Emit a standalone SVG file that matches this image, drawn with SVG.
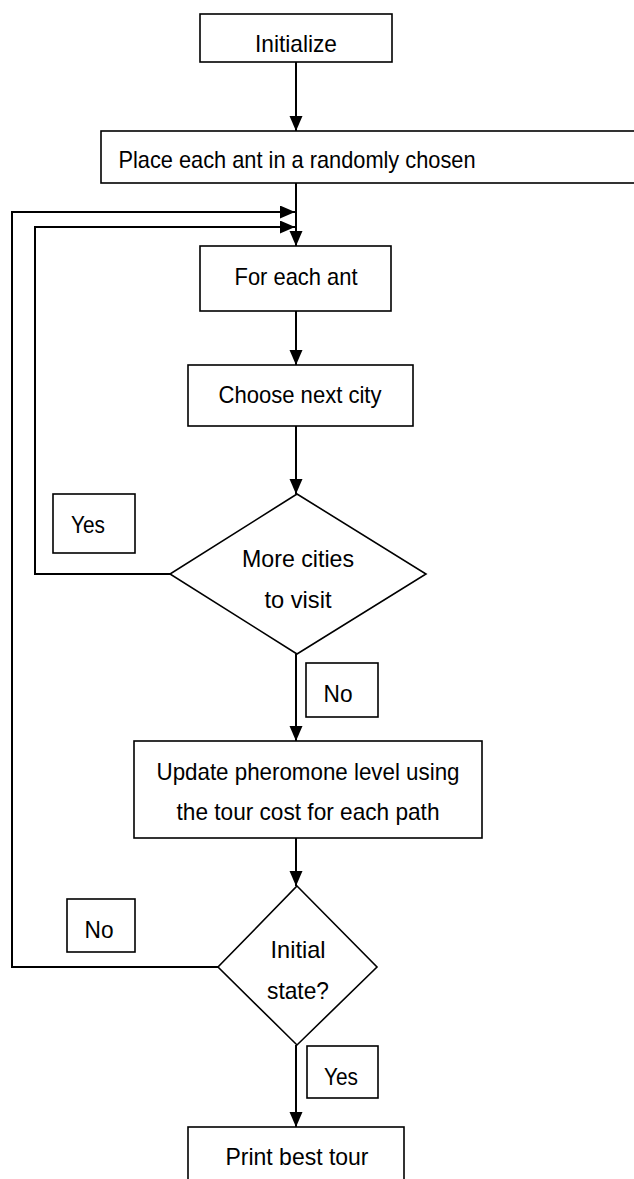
<svg xmlns="http://www.w3.org/2000/svg" width="634" height="1179" viewBox="0 0 634 1179">
<style>
.box{fill:#fff;stroke:#000;stroke-width:1.6}
.conn{fill:none;stroke:#000;stroke-width:2}
text{font-family:"Liberation Sans",Arial,sans-serif;font-size:24px;fill:#000;text-anchor:middle}
</style>
<defs>
<marker id="ah" markerUnits="userSpaceOnUse" markerWidth="16" markerHeight="14" refX="15" refY="6.5" orient="auto">
<path d="M0,0 L15,6.5 L0,13 z" fill="#000"/>
</marker>
</defs>
<rect width="634" height="1179" fill="#fff"/>
<g id="connectors">
<line class="conn" x1="296" y1="62" x2="296" y2="131" marker-end="url(#ah)"/>
<line class="conn" x1="296" y1="183" x2="296" y2="246" marker-end="url(#ah)"/>
<line class="conn" x1="296" y1="311" x2="296" y2="365" marker-end="url(#ah)"/>
<line class="conn" x1="296" y1="426" x2="296" y2="494" marker-end="url(#ah)"/>
<line class="conn" x1="296" y1="654" x2="296" y2="741" marker-end="url(#ah)"/>
<line class="conn" x1="296" y1="838" x2="296" y2="886" marker-end="url(#ah)"/>
<line class="conn" x1="296" y1="1045" x2="296" y2="1127" marker-end="url(#ah)"/>
<polyline class="conn" points="170,574 35,574 35,227 295,227" marker-end="url(#ah)"/>
<polyline class="conn" points="218,967 12,967 12,212 295,212" marker-end="url(#ah)"/>
</g>
<g id="n-initialize">
<rect class="box" x="200" y="14" width="192" height="48"/>
<text x="296" y="52" textLength="82" lengthAdjust="spacingAndGlyphs">Initialize</text>
</g>
<g id="n-place">
<rect class="box" x="101" y="131" width="540" height="52"/>
<text x="297" y="168" textLength="357" lengthAdjust="spacingAndGlyphs">Place each ant in a randomly chosen</text>
</g>
<g id="n-foreach">
<rect class="box" x="200" y="246" width="191" height="65"/>
<text x="296" y="285" textLength="123" lengthAdjust="spacingAndGlyphs">For each ant</text>
</g>
<g id="n-choose">
<rect class="box" x="188" y="365" width="225" height="61"/>
<text x="300" y="403" textLength="163" lengthAdjust="spacingAndGlyphs">Choose next city</text>
</g>
<g id="n-more">
<polygon class="box" points="297,494 426,574 297,654 170,574"/>
<text x="298" y="567" textLength="112" lengthAdjust="spacingAndGlyphs">More cities</text>
<text x="298" y="608" textLength="67" lengthAdjust="spacingAndGlyphs">to visit</text>
</g>
<g id="l-yes1">
<rect class="box" x="53" y="494" width="82" height="59"/>
<text x="88" y="533" textLength="34" lengthAdjust="spacingAndGlyphs">Yes</text>
</g>
<g id="l-no1">
<rect class="box" x="306" y="663" width="72" height="54"/>
<text x="338" y="702" textLength="29" lengthAdjust="spacingAndGlyphs">No</text>
</g>
<g id="n-update">
<rect class="box" x="134" y="741" width="348" height="97"/>
<text x="308" y="780" textLength="303" lengthAdjust="spacingAndGlyphs">Update pheromone level using</text>
<text x="308" y="820" textLength="263" lengthAdjust="spacingAndGlyphs">the tour cost for each path</text>
</g>
<g id="n-initial">
<polygon class="box" points="297,886 377,967 297,1045 218,967"/>
<text x="298" y="958" textLength="55" lengthAdjust="spacingAndGlyphs">Initial</text>
<text x="298" y="999" textLength="62" lengthAdjust="spacingAndGlyphs">state?</text>
</g>
<g id="l-no2">
<rect class="box" x="67" y="899" width="68" height="53"/>
<text x="99" y="938" textLength="29" lengthAdjust="spacingAndGlyphs">No</text>
</g>
<g id="l-yes2">
<rect class="box" x="307" y="1046" width="71" height="52"/>
<text x="341" y="1085" textLength="34" lengthAdjust="spacingAndGlyphs">Yes</text>
</g>
<g id="n-print">
<rect class="box" x="188" y="1127" width="216" height="60"/>
<text x="297" y="1165" textLength="143" lengthAdjust="spacingAndGlyphs">Print best tour</text>
</g>
</svg>
